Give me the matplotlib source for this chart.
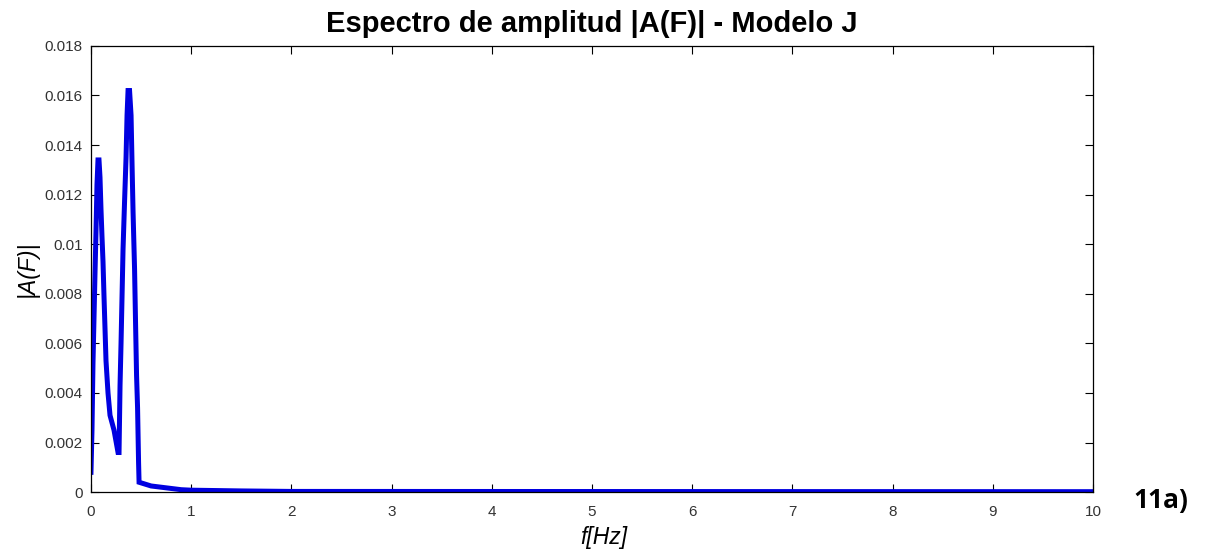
import matplotlib
matplotlib.use('Agg')
import matplotlib.pyplot as plt

# amplitude spectrum
freq = [0.0, 0.01, 0.02, 0.03, 0.04, 0.05, 0.06, 0.07, 0.08, 0.09, 0.10, 0.11,
        0.12, 0.13, 0.14, 0.15, 0.17, 0.19, 0.23, 0.27, 0.28, 0.29, 0.30, 0.31,
        0.32, 0.335, 0.35, 0.36, 0.37, 0.385, 0.40, 0.41, 0.42, 0.435, 0.445,
        0.455, 0.465, 0.475, 0.48, 0.52, 0.6, 0.7, 0.8, 0.9, 1.0, 1.5, 2.0, 10.0]
amp = [0.0008, 0.0025, 0.0052, 0.0070, 0.0088, 0.0105, 0.0124, 0.0134, 0.0134,
       0.0127, 0.0114, 0.0103, 0.0093, 0.0079, 0.0066, 0.0053, 0.0040, 0.0031,
       0.0025, 0.0016, 0.0016, 0.0043, 0.0060, 0.0079, 0.0098, 0.0117, 0.0135,
       0.0152, 0.0162, 0.0162, 0.0152, 0.0132, 0.0113, 0.0090, 0.0068, 0.0047,
       0.0034, 0.0012, 0.0004, 0.00035, 0.00025, 0.0002, 0.00015, 0.0001,
       0.00008, 0.00005, 0.00003, 0.00002]

xticks = list(range(0, 11))
yticks = [0, 0.002, 0.004, 0.006, 0.008, 0.01, 0.012, 0.014, 0.016, 0.018]
ytick_labels = ['0', '0.002', '0.004', '0.006', '0.008', '0.01', '0.012',
                '0.014', '0.016', '0.018']

plt.rcParams['font.family'] = ['Liberation Sans', 'DejaVu Sans']

fig = plt.figure(figsize=(12.05, 5.53), dpi=100)
ax = fig.add_axes([0.0755, 0.110, 0.8315, 0.807])

ax.plot(freq, amp, color='#0000e0', linewidth=3.6, solid_joinstyle='miter')

ax.set_xlim(0, 10)
ax.set_ylim(0, 0.018)
ax.set_xticks(xticks)
ax.set_yticks(yticks)
ax.set_yticklabels(ytick_labels)
ax.tick_params(direction='in', top=True, right=True, length=6,
               labelsize=11, labelcolor='#333333', pad=6)
ax.tick_params(axis='x', pad=9)
for s in ax.spines.values():
    s.set_linewidth(0.9)

ax.set_title('Espectro de amplitud |A(F)| - Modelo J', fontsize=21,
             fontweight='bold', pad=10)
ax.set_xlabel('f[Hz]', fontsize=16.5, style='italic')
ax.xaxis.set_label_coords(0.512, -0.075)
ax.set_ylabel('|A(F)|', fontsize=16.5, style='italic', labelpad=4)

fig.text(0.941, 0.095, '11a)', fontsize=19, fontweight='bold',
         ha='left', va='center', family=['Open Sans', 'DejaVu Sans'])

fig.savefig('out.png', dpi=100)
